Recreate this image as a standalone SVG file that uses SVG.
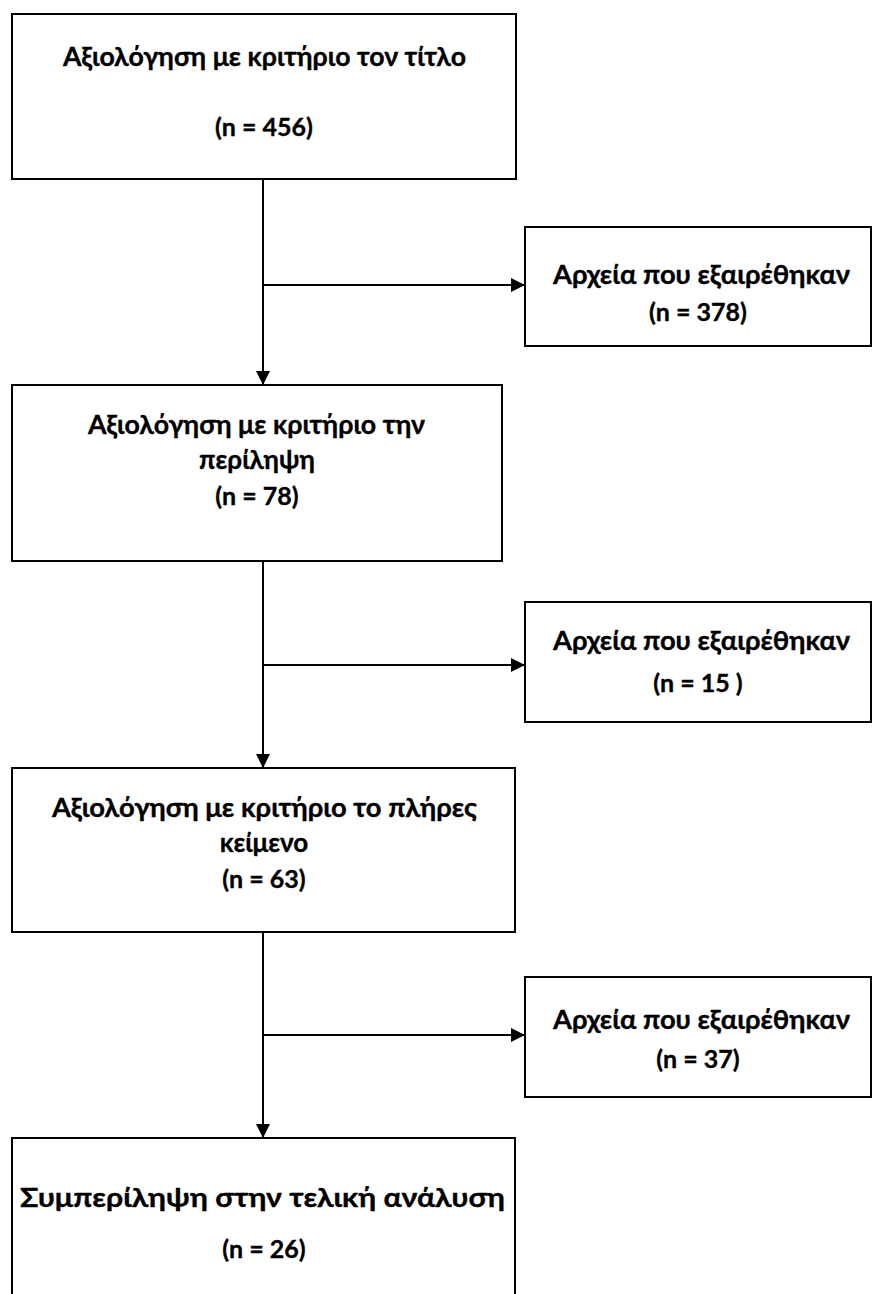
<svg xmlns="http://www.w3.org/2000/svg" width="873" height="1294" viewBox="0 0 873 1294">
<style>
.box{fill:#fff;stroke:#000;stroke-width:2}
.t{font-family:Lato,"Open Sans","Noto Sans",sans-serif;font-weight:bold;font-size:26px;fill:#000;stroke:#000;stroke-width:0.35;text-anchor:middle}
.n{font-size:25px}
.c{fill:none;stroke:#000;stroke-width:2}
</style>
<defs>
<marker id="ah" markerUnits="userSpaceOnUse" markerWidth="14" markerHeight="14" refX="14" refY="7" orient="auto">
<path d="M0,0 L14,7 L0,14 z" fill="#000"/>
</marker>
</defs>
<rect width="873" height="1294" fill="#fff"/>
<g id="connectors">
<line class="c" x1="263" y1="179" x2="263" y2="385" marker-end="url(#ah)"/>
<line class="c" x1="263" y1="285" x2="525" y2="285" marker-end="url(#ah)"/>
<line class="c" x1="263" y1="561" x2="263" y2="768" marker-end="url(#ah)"/>
<line class="c" x1="263" y1="665" x2="525" y2="665" marker-end="url(#ah)"/>
<line class="c" x1="263" y1="932" x2="263" y2="1138" marker-end="url(#ah)"/>
<line class="c" x1="263" y1="1035" x2="525" y2="1035" marker-end="url(#ah)"/>
</g>
<g id="title-screen">
<rect class="box" x="12" y="14" width="504" height="165"/>
<text class="t" x="264.5" y="66" textLength="403" lengthAdjust="spacingAndGlyphs">Αξιολόγηση με κριτήριο τον τίτλο</text>
<text class="t n" x="264" y="136">(n = 456)</text>
</g>
<g id="excluded-1">
<rect class="box" x="525" y="227" width="346" height="119"/>
<text class="t" x="701.5" y="284" textLength="297" lengthAdjust="spacingAndGlyphs">Αρχεία που εξαιρέθηκαν</text>
<text class="t n" x="698" y="321">(n = 378)</text>
</g>
<g id="abstract-screen">
<rect class="box" x="12" y="385" width="490" height="176"/>
<text class="t" x="256.5" y="434" textLength="337" lengthAdjust="spacingAndGlyphs">Αξιολόγηση με κριτήριο την</text>
<text class="t" x="257" y="469">περίληψη</text>
<text class="t n" x="257" y="505">(n = 78)</text>
</g>
<g id="excluded-2">
<rect class="box" x="525" y="602" width="346" height="120"/>
<text class="t" x="701.5" y="650" textLength="297" lengthAdjust="spacingAndGlyphs">Αρχεία που εξαιρέθηκαν</text>
<text class="t n" x="698" y="692">(n = 15 )</text>
</g>
<g id="fulltext-screen">
<rect class="box" x="12" y="768" width="503" height="164"/>
<text class="t" x="264.5" y="817" textLength="425" lengthAdjust="spacingAndGlyphs">Αξιολόγηση με κριτήριο το πλήρες</text>
<text class="t" x="264" y="852">κείμενο</text>
<text class="t n" x="264" y="888">(n = 63)</text>
</g>
<g id="excluded-3">
<rect class="box" x="525" y="977" width="346" height="120"/>
<text class="t" x="701.5" y="1029" textLength="297" lengthAdjust="spacingAndGlyphs">Αρχεία που εξαιρέθηκαν</text>
<text class="t n" x="698" y="1068">(n = 37)</text>
</g>
<g id="included">
<rect class="box" x="12" y="1138" width="503" height="170"/>
<text class="t" x="262.5" y="1207" textLength="485" lengthAdjust="spacingAndGlyphs">Συμπερίληψη στην τελική ανάλυση</text>
<text class="t n" x="264" y="1258">(n = 26)</text>
</g>
</svg>
